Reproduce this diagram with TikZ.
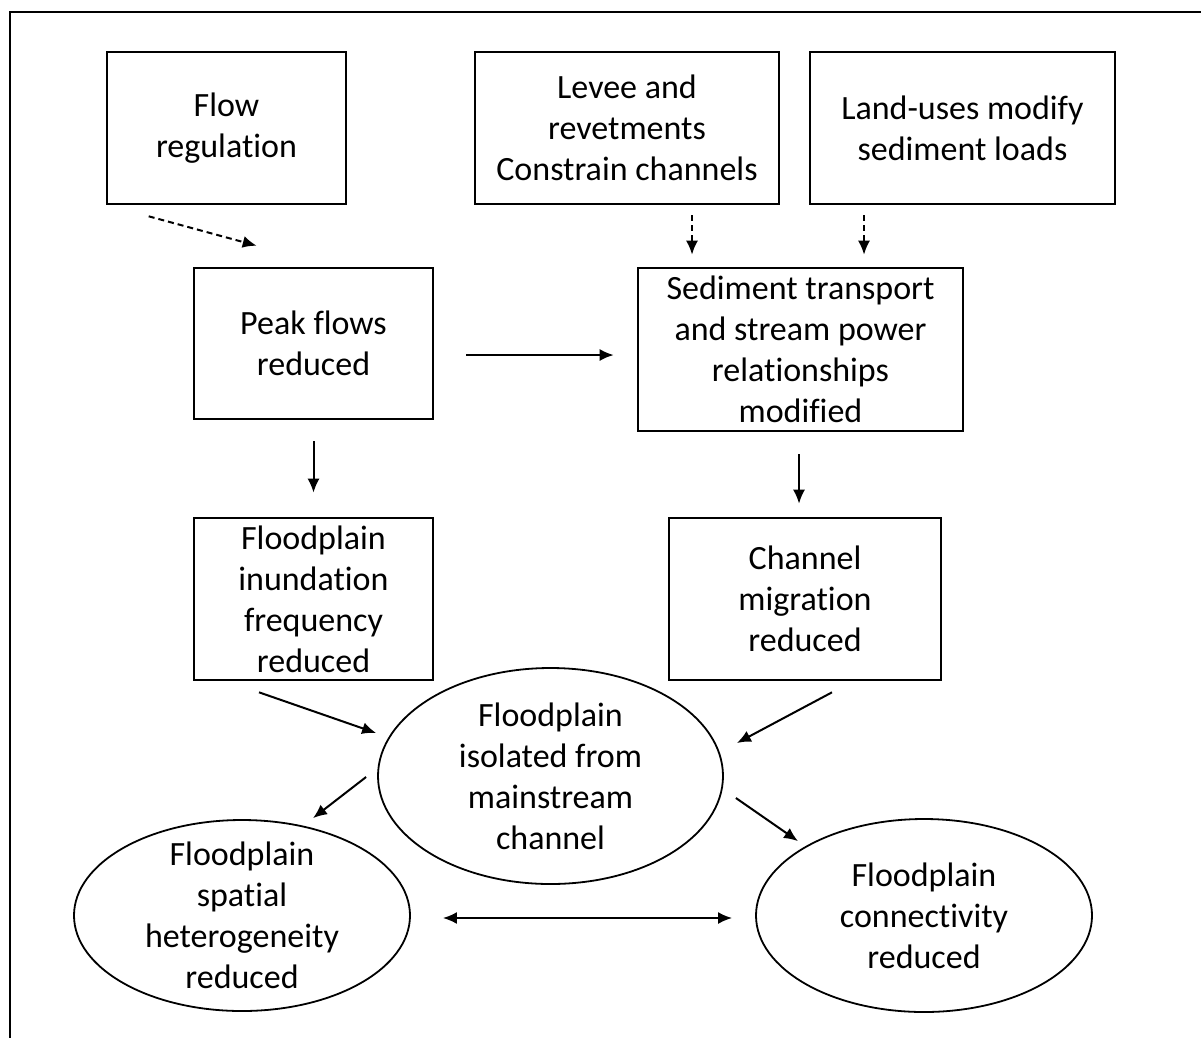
\documentclass[tikz,border=0pt]{standalone}
\usepackage{fontspec}
\setmainfont{Carlito}[RawFeature=-liga]
\usepackage{tikz}
\usetikzlibrary{arrows.meta, shapes.geometric}

\tikzset{
  box/.style={draw, line width=2.6pt, inner sep=0pt, align=center},
  blob/.style={draw, ellipse, line width=1.8pt, inner sep=0pt},
  blobtext/.style={align=center, inner sep=0pt},
  link/.style={line width=2pt, -{Latex[length=14pt,width=12pt]}},
  dlink/.style={link, dash pattern=on 6pt off 4pt},
  twolink/.style={line width=2pt, {Latex[length=14pt,width=12pt]}-{Latex[length=14pt,width=12pt]}}
}

\begin{document}
\fontsize{34}{41}\selectfont
\begin{tikzpicture}[x=1pt, y=-1pt]
        \useasboundingbox (0,0) rectangle (1201,1037);
        \draw[line width=2.2pt] (10,1060) -- (10,12) -- (1220,12);

        % top row
        \node[box, minimum width=239pt, minimum height=152pt] (flowreg) at (226.5,128) {Flow\\regulation};
        \node[box, minimum width=304pt, minimum height=152pt] (levee) at (627,128) {Levee and\\revetments\\Constrain channels};
        \node[box, minimum width=305pt, minimum height=152pt] (landuse) at (962.5,128) {Land-uses modify\\sediment loads};

        \node[box, minimum width=239pt, minimum height=151pt] (peak) at (313.5,343.5) {Peak flows\\reduced};
        \node[box, minimum width=325pt, minimum height=163pt] (sed) at (800.5,349.5) {Sediment transport\\and stream power\\relationships\\modified};

        \node[box, minimum width=239pt, minimum height=162pt] (inund) at (313.5,599) {Floodplain\\inundation\\frequency\\reduced};
        \node[box, minimum width=272pt, minimum height=162pt] (chanmig) at (805,599) {Channel\\migration\\reduced};

        % ellipses
        \node[blob, minimum width=345pt, minimum height=216pt, label={[blobtext]center:Floodplain\\isolated from\\mainstream\\channel}] (isolated) at (550.5,776) {};
        \node[blob, minimum width=336pt, minimum height=191pt, label={[blobtext]center:Floodplain\\spatial\\heterogeneity\\reduced}] (hetero) at (242,915.5) {};
        \node[blob, minimum width=336pt, minimum height=193pt, label={[blobtext]center:Floodplain\\connectivity\\reduced}] (connect) at (924,915.5) {};

        \draw[dlink] ([shift={(43,11)}]flowreg.south west) -- ([shift={(64,-21)}]peak.north west);
        \draw[dlink] ([shift={(65,10)}]levee.south) -- ([shift={(-108.5,-12)}]sed.north);
        \draw[dlink] ([shift={(-98.5,10)}]landuse.south) -- ([shift={(63.5,-12)}]sed.north);

        \draw[link] ([shift={(32,11.5)}]peak.east) -- ([shift={(-23,5.5)}]sed.west);
        \draw[link] ([shift={(0,21)}]peak.south) -- ([shift={(0,-24)}]inund.north);
        \draw[link] ([shift={(-1.5,22)}]sed.south) -- ([shift={(-6,-13)}]chanmig.north);

        \draw[link] ([shift={(-54.5,11)}]inund.south) -- ([shift={(-1,-43)}]isolated.west);
        \draw[link] ([shift={(27,11)}]chanmig.south) -- ([shift={(13,-33)}]isolated.east);
        \draw[link] ([shift={(-11,1)}]isolated.west) -- ([shift={(71,-1)}]hetero.north);
        \draw[link] ([shift={(12,22)}]isolated.east) -- ([shift={(-126,23)}]connect.north);
        \draw[twolink] ([shift={(32,2.5)}]hetero.east) -- ([shift={(-23,2.5)}]connect.west);

    \end{tikzpicture}
\end{document}
